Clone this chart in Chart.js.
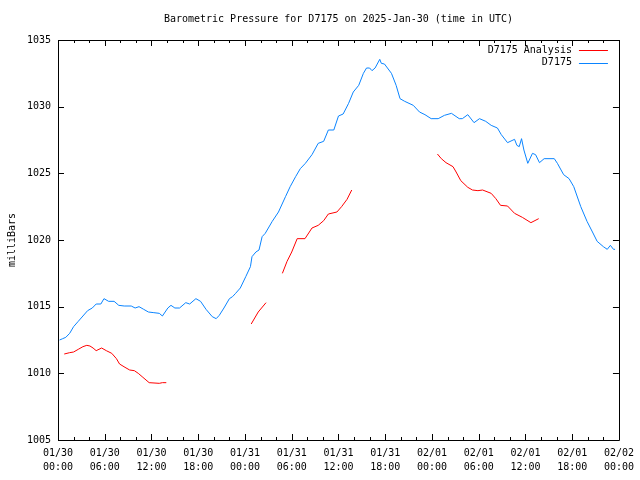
<!DOCTYPE html>
<html>
<head>
<meta charset="utf-8">
<script src="https://cdn.jsdelivr.net/npm/chart.js@4/dist/chart.umd.min.js"></script>
<style>
html,body{margin:0;padding:0;background:#fff;}
canvas{display:block;}
</style>
</head>
<body>
<canvas id="c" width="640" height="480"></canvas>
<script>
const chartTitle = 'Barometric Pressure for D7175 on 2025-Jan-30 (time in UTC)';
const yAxisTitle = 'milliBars';
const seriesNames = ['D7175 Analysis', 'D7175'];
const seriesColors = ['#ff0000', '#0a84ff'];

// x tick labels, one per 6 hours from 2025-01-30 00:00 UTC
const tickDates = ['01/30','01/30','01/30','01/30','01/31','01/31','01/31','01/31','02/01','02/01','02/01','02/01','02/02'];
const tickTimes = ['00:00','06:00','12:00','18:00','00:00','06:00','12:00','18:00','00:00','06:00','12:00','18:00','00:00'];

// D7175 observations: hours since 01/30 00:00, pressure in mb
const obsHours = [0.2,0.6,1.0,1.5,2.0,2.6,3.2,3.8,4.4,4.9,5.5,5.9,6.5,7.2,7.8,8.5,9.4,9.9,10.4,11.0,11.6,12.3,13.0,13.4,14.1,14.5,15.0,15.6,16.4,16.9,17.7,18.3,19.0,19.8,20.3,20.7,21.3,22.0,22.4,22.8,23.4,24.1,24.7,24.9,25.4,25.8,26.2,26.6,27.5,28.3,29.2,29.8,30.5,31.1,31.75,32.6,33.4,34.1,34.7,35.4,36.0,36.6,37.3,37.9,38.6,39.2,39.6,40.0,40.3,40.7,41.3,41.5,41.9,42.8,43.4,43.9,44.5,45.6,46.4,47.1,47.9,48.8,49.6,50.5,51.5,51.9,52.6,53.4,54.1,54.9,55.6,56.4,56.9,57.7,58.6,58.9,59.2,59.5,59.8,60.3,60.9,61.3,61.8,62.4,63.7,64.1,64.9,65.6,66.2,67.1,67.9,68.6,69.2,70.0,70.5,70.9,71.3,71.5];
const obsValues = [1012.5,1012.6,1012.7,1013.0,1013.5,1013.9,1014.3,1014.7,1014.9,1015.2,1015.2,1015.6,1015.4,1015.4,1015.1,1015.05,1015.05,1014.9,1015.0,1014.8,1014.6,1014.55,1014.5,1014.3,1014.9,1015.1,1014.9,1014.9,1015.3,1015.2,1015.6,1015.4,1014.8,1014.25,1014.1,1014.35,1014.9,1015.6,1015.75,1016.0,1016.4,1017.25,1018.0,1018.75,1019.1,1019.25,1020.25,1020.5,1021.4,1022.1,1023.25,1024.0,1024.75,1025.35,1025.75,1026.4,1027.25,1027.4,1028.25,1028.25,1029.3,1029.45,1030.25,1031.1,1031.6,1032.5,1032.9,1032.9,1032.7,1032.9,1033.55,1033.25,1033.2,1032.5,1031.6,1030.6,1030.4,1030.1,1029.6,1029.4,1029.1,1029.1,1029.35,1029.5,1029.1,1029.1,1029.4,1028.8,1029.1,1028.9,1028.6,1028.4,1027.9,1027.3,1027.55,1027.1,1027.0,1027.6,1026.75,1025.75,1026.5,1026.4,1025.8,1026.1,1026.1,1025.75,1024.9,1024.6,1024.0,1022.5,1021.4,1020.6,1019.9,1019.5,1019.3,1019.6,1019.3,1019.3];

// D7175 Analysis: hours and values, null marks a gap
const anaHours = [0.8,1.5,2.0,2.6,3.2,3.7,4.1,4.5,4.9,5.6,6.2,6.9,7.5,7.9,8.6,9.2,9.8,10.3,10.9,11.7,13.0,13.4,13.9,19,24.8,25.7,26.7,27.7,28.8,29.4,30.0,30.7,31.7,32.6,33.4,34.1,34.7,35.8,36.4,37.1,37.7,43,48.7,49.2,49.8,50.7,51.1,51.7,52.6,53.2,53.9,54.5,55.6,56.2,56.8,57.7,58.6,59.6,60.7,61.7];
const anaValues = [1011.45,1011.55,1011.6,1011.8,1012.0,1012.1,1012.05,1011.9,1011.7,1011.9,1011.7,1011.5,1011.1,1010.7,1010.45,1010.25,1010.2,1010.0,1009.7,1009.3,1009.25,1009.3,1009.3,null,1013.7,1014.6,1015.3,null,1017.5,1018.4,1019.1,1020.1,1020.1,1020.9,1021.1,1021.45,1021.95,1022.1,1022.5,1023.05,1023.75,null,1026.45,1026.1,1025.8,1025.5,1025.1,1024.45,1023.95,1023.75,1023.7,1023.75,1023.5,1023.1,1022.6,1022.55,1022.0,1021.7,1021.3,1021.6];

const FONT = 'DejaVu Sans Mono';

function pts(hs, vs){ return hs.map((h,i)=>({x:h, y:vs[i]})); }

const framePlugin = {
  id: 'gnuframe',
  afterDraw(chart){
    const ctx = chart.ctx, a = chart.chartArea;
    const xs = chart.scales.x, ys = chart.scales.y;
    ctx.save();
    ctx.strokeStyle = '#000';
    ctx.lineWidth = 1;
    ctx.beginPath();
    ctx.rect(Math.round(a.left)+0.5, Math.round(a.top)+0.5, Math.round(a.right-a.left), Math.round(a.bottom-a.top));
    ctx.stroke();
    ctx.beginPath();
    // y ticks inward on both sides
    ys.ticks.forEach(t=>{
      const y = Math.round(ys.getPixelForValue(t.value))+0.5;
      ctx.moveTo(a.left, y); ctx.lineTo(a.left+6, y);
      ctx.moveTo(a.right, y); ctx.lineTo(a.right-6, y);
    });
    // x ticks: major each 6 h, minor each 2 h
    for (let h = xs.min; h <= xs.max; h += 2){
      const x = Math.round(xs.getPixelForValue(h))+0.5;
      const len = (h % 6 === 0) ? 6 : 3;
      ctx.moveTo(x, a.bottom); ctx.lineTo(x, a.bottom-len);
      ctx.moveTo(x, a.top); ctx.lineTo(x, a.top+len);
    }
    ctx.stroke();
    // title
    ctx.fillStyle = '#000';
    ctx.font = '10px "' + FONT + '"';
    ctx.textAlign = 'center';
    ctx.textBaseline = 'middle';
    ctx.fillText(chartTitle, (a.left+a.right)/2, 19);
    // y axis title
    ctx.save();
    ctx.translate(12, (a.top+a.bottom)/2);
    ctx.rotate(-Math.PI/2);
    ctx.fillText(yAxisTitle, 0, 0);
    ctx.restore();
    // legend (gnuplot style, top right)
    chart.data.datasets.forEach((ds, i)=>{
      const y = a.top + 10 + i*12.5;
      ctx.textAlign = 'right';
      ctx.fillStyle = '#000';
      ctx.fillText(ds.label, a.right-47, y);
      ctx.strokeStyle = ds.borderColor;
      ctx.beginPath();
      ctx.moveTo(a.right-40, Math.round(y)+0.5);
      ctx.lineTo(a.right-11, Math.round(y)+0.5);
      ctx.stroke();
    });
    ctx.restore();
  }
};

new Chart(document.getElementById('c'), {
  type: 'line',
  data: {
    datasets: [
      {label: seriesNames[0], data: pts(anaHours, anaValues), borderColor: seriesColors[0], borderWidth: 1, pointRadius: 0, tension: 0, spanGaps: false, fill: false},
      {label: seriesNames[1], data: pts(obsHours, obsValues), borderColor: seriesColors[1], borderWidth: 1, pointRadius: 0, tension: 0, spanGaps: false, fill: false}
    ]
  },
  options: {
    responsive: false,
    animation: false,
    events: [],
    layout: {padding: {top: 40, right: 18, left: 0, bottom: 0}},
    plugins: {legend: {display: false}, title: {display: false}, tooltip: {enabled: false}},
    scales: {
      x: {
        type: 'linear', min: 0, max: 72,
        grid: {display: false, drawTicks: false},
        border: {display: false},
        afterFit(s){ s.height = 40; },
        ticks: {
          stepSize: 6, autoSkip: false, maxRotation: 0, padding: 6,
          color: '#000', font: {family: FONT, size: 10, lineHeight: 1.4},
          callback: (v)=> [tickDates[v/6], tickTimes[v/6]]
        }
      },
      y: {
        min: 1005, max: 1035,
        grid: {display: false, drawTicks: false},
        border: {display: false},
        afterFit(s){ s.width = 58; },
        ticks: {stepSize: 5, padding: 7, color: '#000', font: {family: FONT, size: 10}, callback: (v)=> String(v)}
      }
    }
  },
  plugins: [framePlugin]
});
</script>
</body>
</html>
